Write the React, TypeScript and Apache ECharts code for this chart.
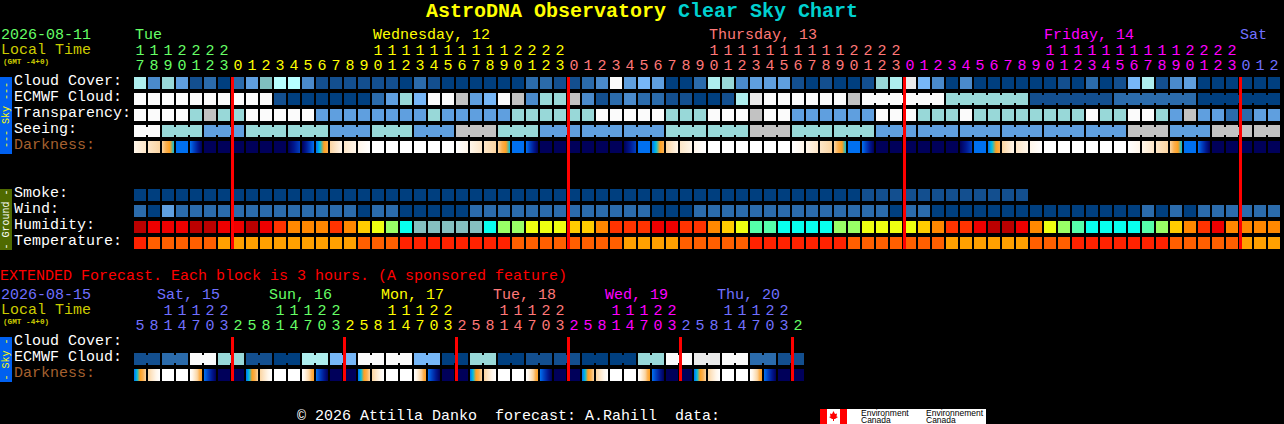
import React, { useEffect, useRef } from "react";
import * as echarts from "echarts";

const FONT = "Liberation Mono";

// --- palettes (level -> colour)
const skyPalette = ["#003f7f","#134f8f","#2b6bab","#4a8acb","#5f9fdf","#77b7f7","#7fbfbf","#98d8d8","#aeeeee","#b7ffff","#c2c2c2","#eaeaea","#fbfbfb"];
const humidityPalette = ["#bb0000","#ee0000","#ff3300","#ff8800","#ffcc00","#eeff11","#99ff66","#55ffaa","#08ffee","#85bfbf"];
const temperaturePalette = ["#ff2200","#ff5f00","#ffa000"];
const darknessPalette = ["#ffffff","#fff6ea","#fde6c8","#fbd5a2","#fbb050","#ffa020","#00c0e0","#0070f0","#0040c0","#001890","#00005a"];

// --- labels
const rowLabels = ["Cloud Cover:","ECMWF Cloud:","Transparency:","Seeing:","Darkness:","","","Smoke:","Wind:","Humidity:","Temperature:"];
const extRowLabels = ["Cloud Cover:","ECMWF Cloud:","Darkness:"];
const hourUnits = "7 8 9 0 1 2 3 0 1 2 3 4 5 6 7 8 9 0 1 2 3 4 5 6 7 8 9 0 1 2 3 0 1 2 3 4 5 6 7 8 9 0 1 2 3 4 5 6 7 8 9 0 1 2 3 0 1 2 3 4 5 6 7 8 9 0 1 2 3 4 5 6 7 8 9 0 1 2 3 0 1 2".split(" ");
const hourTens = "1 1 1 2 2 2 2 - - - - - - - - - - 1 1 1 1 1 1 1 1 1 1 2 2 2 2 - - - - - - - - - - 1 1 1 1 1 1 1 1 1 1 2 2 2 2 - - - - - - - - - - 1 1 1 1 1 1 1 1 1 1 2 2 2 2 - - -".split(" ").map((d) => (d === "-" ? "" : d));
const extHourUnits = "5 8 1 4 7 0 3 2 5 8 1 4 7 0 3 2 5 8 1 4 7 0 3 2 5 8 1 4 7 0 3 2 5 8 1 4 7 0 3 2 5 8 1 4 7 0 3 2".split(" ");
const extHourTens = "- - 1 1 1 2 2 - - - 1 1 1 2 2 - - - 1 1 1 2 2 - - - 1 1 1 2 2 - - - 1 1 1 2 2 - - - 1 1 1 2 2 -".split(" ").map((d) => (d === "-" ? "" : d));

const GREEN = "#66ff66", YELLOW = "#ffff00", SALMON = "#ff7878", MAGENTA = "#ff00ff", BLUE = "#7070ff";
// [first column of the day, colour]
const dayStarts: [number, string][] = [[0, GREEN],[7, YELLOW],[31, SALMON],[55, MAGENTA],[79, BLUE]];
const extDayStarts: [number, string][] = [[0, BLUE],[7, GREEN],[15, YELLOW],[23, SALMON],[31, MAGENTA],[39, BLUE],[47, GREEN]];
const midnights = [7, 31, 55, 79];
const extMidnights = [7, 15, 23, 31, 39, 47];

// --- hourly forecast
const cloudCover = [8,3,7,4,1,2,0,2,4,6,9,9,3,1,1,1,1,1,1,0,2,1,0,0,0,0,0,0,2,2,1,1,2,3,12,4,5,4,0,0,2,8,7,3,4,4,4,1,0,1,0,0,1,7,8,11,5,3,0,3,0,0,0,0,0,0,1,0,2,0,1,5,8,1,3,4,0,0,0,0,0,0];
const ecmwfCloud = [12,12,12,12,12,12,12,12,12,12,1,0,0,0,0,0,0,2,4,7,5,12,12,10,4,5,12,10,3,7,7,10,3,1,2,3,2,2,1,1,0,0,1,8,11,12,12,12,12,12,12,10,12,12,12,12,12,12,7,7,7,7,7,7,1,1,1,1,1,1,2,2,2,2,2,2,0,0,0,0,0,0];
const transparency = [12,12,12,12,7,10,7,7,12,12,12,12,12,4,4,4,4,4,4,4,4,7,4,4,4,4,4,7,7,7,7,7,7,12,12,12,12,12,7,7,7,12,12,12,10,12,12,4,4,4,4,4,4,12,12,12,7,7,7,12,7,7,7,7,7,7,7,7,12,7,7,12,12,7,4,10,4,4,2,2,4,4];
const seeing = [12,12,7,7,7,4,4,4,7,7,7,7,7,7,4,4,4,7,7,7,4,4,4,10,10,10,7,7,7,4,4,4,4,4,4,4,4,4,7,7,7,7,7,7,10,10,10,7,7,7,7,7,7,4,4,4,4,4,4,4,4,4,4,4,4,4,4,4,4,4,4,10,10,10,4,4,4,10,10,10,10,10];
const darknessFrom = [1,2,3,7,7,10,10,10,10,10,10,10,10,7,3,2,1,0,0,0,0,0,0,0,1,2,3,7,7,10,10,10,10,10,10,10,7,7,3,2,1,0,0,0,0,0,0,0,1,2,3,7,7,10,10,10,10,10,10,10,7,7,3,2,1,0,0,0,0,0,0,0,1,2,3,7,7,10,10,10,10,10];
const darknessTo = [2,3,6,7,10,10,10,10,10,10,10,8,7,4,1,1,0,0,0,0,0,0,0,1,2,3,6,7,10,10,10,10,10,10,10,8,7,4,1,1,0,0,0,0,0,0,0,1,2,3,6,7,10,10,10,10,10,10,10,8,7,4,1,1,0,0,0,0,0,0,0,1,2,3,6,7,10,10,10,10,10,10];
const smoke = [0,0,0,0,0,0,0,0,0,0,0,0,0,0,0,0,0,0,0,0,0,0,0,0,0,0,0,0,0,0,0,0,0,0,0,0,0,0,0,0,0,0,0,0,0,0,0,0,0,0,0,0,1,1,1,1,1,1,1,1,1,1,1,1];
const wind = [2,0,4,2,2,2,2,2,2,2,2,2,2,2,2,2,0,2,2,0,0,0,0,0,2,2,2,2,2,2,2,2,2,2,2,2,2,0,0,0,2,2,2,2,2,2,2,2,2,2,2,2,2,2,0,2,2,0,0,0,0,0,0,0,0,0,0,0,0,0,0,0,2,0,2,0,2,2,2,2,2,2];
const humidity = [0,1,1,1,0,0,1,1,0,1,2,3,3,3,2,3,4,5,6,8,9,9,9,9,9,8,6,6,5,5,5,4,4,3,2,2,2,1,1,2,2,3,4,5,7,7,8,8,8,8,6,6,5,5,5,5,4,3,2,2,1,0,0,1,3,5,6,7,8,8,8,8,7,6,4,3,2,1,3,3,3,3];
const temperature = [0,1,1,1,1,1,2,2,2,2,2,2,2,2,2,2,1,1,1,0,0,0,0,0,0,0,0,1,1,1,1,1,1,1,1,2,2,2,2,1,1,1,1,1,0,0,0,0,0,0,0,1,1,1,1,1,1,1,2,2,2,2,2,2,1,1,1,0,0,0,0,0,0,0,1,1,1,1,1,2,2,2];

// --- extended forecast (3 hour blocks)
const extEcmwf = [1,1,2,2,12,12,7,7,1,1,0,0,8,8,5,5,12,12,12,12,5,5,0,0,7,7,0,0,1,1,1,1,0,0,0,0,7,7,12,12,11,11,12,12,2,2,1,1];
const extDarknessFrom = [7,3,0,0,0,7,10,10,7,3,0,0,0,7,10,10,7,3,0,0,0,7,10,10,7,3,0,0,0,7,10,10,7,3,0,0,0,7,10,10,7,3,0,0,0,7,10,10];
const extDarknessTo = [3,0,0,0,5,10,10,10,3,0,0,0,5,10,10,10,3,0,0,0,5,10,10,10,3,0,0,0,5,10,10,10,3,0,0,0,5,10,10,10,3,0,0,0,5,10,10,10];

// --- texts
const dayTexts: [string, number, string][] = [["Tue",135,GREEN],["Wednesday, 12",373,YELLOW],["Thursday, 13",709,SALMON],["Friday, 14",1044,MAGENTA],["Sat",1240,BLUE]];
const extDayTexts: [string, number, string][] = [["Sat, 15",157,BLUE],["Sun, 16",269,GREEN],["Mon, 17",381,YELLOW],["Tue, 18",493,SALMON],["Wed, 19",605,MAGENTA],["Thu, 20",717,BLUE]];

const dayColor = (starts: [number, string][], i: number) => {
  let c = starts[0][1];
  for (const [s, col] of starts) if (i >= s) c = col;
  return c;
};

const gradient = (a: number, b: number) => {
  if (a === b) return darknessPalette[a];
  const step = a < b ? 1 : -1;
  const n = Math.abs(b - a);
  const stops = [];
  for (let k = 0; k <= n; k++) stops.push({ offset: k / n, color: darknessPalette[a + k * step] });
  return new echarts.graphic.LinearGradient(0, 0, 1, 0, stops);
};

// each entry: [column, row, fill index into fills, link to next cell]
const buildCells = (rows: { row: number; fills: any[]; link?: (i: number, n: number) => boolean }[]) => {
  const fills: any[] = [];
  const data: number[][] = [];
  rows.forEach(({ row, fills: f, link }) => {
    f.forEach((fill, i) => {
      fills.push(fill);
      data.push([i, row, fills.length - 1, link && i < f.length - 1 && link(i, f.length) ? 1 : 0]);
    });
  });
  return { fills, data };
};

const cellSeries = (rows: any[], xAxisIndex: number, yAxisIndex: number) => {
  const { fills, data } = buildCells(rows);
  return {
    type: "custom",
    coordinateSystem: "cartesian2d",
    xAxisIndex,
    yAxisIndex,
    silent: true,
    clip: false,
    z: 2,
    data,
    renderItem: (_p: any, api: any) => {
      const [cx, cy] = api.coord([api.value(0), api.value(1)]);
      const fill = fills[api.value(2)];
      const children: any[] = [{ type: "rect", shape: { x: cx - 6, y: cy - 6, width: 12, height: 12 }, style: { fill } }];
      if (api.value(3)) children.push({ type: "rect", shape: { x: cx + 6, y: cy - 4, width: 2, height: 8 }, style: { fill } });
      return { type: "group", children };
    },
  };
};

const lineSeries = (cols: number[], firstRow: number, lastRow: number, xAxisIndex: number, yAxisIndex: number) => ({
  type: "custom",
  coordinateSystem: "cartesian2d",
  xAxisIndex,
  yAxisIndex,
  silent: true,
  clip: false,
  z: 10,
  data: cols.map((c) => [c, firstRow, lastRow]),
  renderItem: (_p: any, api: any) => {
    const [cx, top] = api.coord([api.value(0), api.value(1)]);
    const bottom = api.coord([api.value(0), api.value(2)])[1];
    return { type: "rect", z2: 100, shape: { x: cx - 7, y: top - 6, width: 3, height: bottom - top + 12 }, style: { fill: "#ff0000" } };
  },
});

const xAxisOf = (labels: string[], starts: [number, string][], gridIndex: number, offset: number) => ({
  type: "category",
  gridIndex,
  position: "top",
  offset,
  data: labels,
  axisLine: { show: false },
  axisTick: { show: false },
  splitLine: { show: false },
  axisLabel: {
    interval: 0,
    margin: 1,
    hideOverlap: false,
    fontFamily: FONT,
    fontSize: 15,
    color: (_v: any, i: number) => dayColor(starts, i),
  },
});

const yAxisOf = (labels: string[], gridIndex: number) => ({
  type: "category",
  gridIndex,
  inverse: true,
  data: labels,
  axisLine: { show: false },
  axisTick: { show: false },
  splitLine: { show: false },
  axisLabel: {
    interval: 0,
    margin: 119,
    align: "left",
    verticalAlign: "bottom",
    lineHeight: 4,
    fontFamily: FONT,
    fontSize: 15,
    color: (v: string) => (v === "Darkness:" ? "#a5602f" : "#ffffff"),
  },
});

const txt = (text: string, x: number, y: number, fill: string, fontSize = 15, extra: any = {}) => ({
  type: "text",
  x,
  y,
  silent: true,
  ...extra,
  style: { text, fill, fontFamily: FONT, fontSize, textAlign: "left", textVerticalAlign: "middle", ...(extra.style || {}) },
});

const band = (y: number, h: number, fill: string) => ({ type: "rect", silent: true, shape: { x: 0, y, width: 12, height: h }, style: { fill } });
const vtext = (text: string, cy: number, fill: string) => ({
  type: "text",
  x: 6,
  y: cy,
  rotation: Math.PI / 2,
  silent: true,
  style: { text, fill, fontFamily: FONT, fontSize: 10, textAlign: "center", textVerticalAlign: "middle" },
});

const leaf = [[833.5,411],[835,414],[837,413.5],[836.5,416.5],[838,417],[835,419],[834,419],[834,421],[833,421],[833,419],[832,419],[829,417],[830.5,416.5],[830,413.5],[832,414]];

export default function App() {
  const ref = useRef<HTMLDivElement>(null);
  useEffect(() => {
    document.body.style.margin = "0";
    document.body.style.background = "#000";
    document.body.style.overflow = "hidden";
    const chart = echarts.init(ref.current!, undefined, { renderer: "svg" });
    const sky = (a: number[]) => a.map((v) => skyPalette[v]);
    const ecmwfLink = (i: number) => {
      if (i < 52) return false;
      return ecmwfCloud[i] === ecmwfCloud[i + 1];
    };
    const mainRows = [
      { row: 0, fills: sky(cloudCover) },
      { row: 1, fills: sky(ecmwfCloud), link: ecmwfLink },
      { row: 2, fills: sky(transparency) },
      { row: 3, fills: sky(seeing), link: (i: number) => (i + 1) % 3 !== 2 },
      { row: 4, fills: darknessFrom.map((a, i) => gradient(a, darknessTo[i])) },
      { row: 7, fills: sky(smoke) },
      { row: 8, fills: sky(wind) },
      { row: 9, fills: humidity.map((v) => humidityPalette[v]) },
      { row: 10, fills: temperature.map((v) => temperaturePalette[v]) },
    ];
    const extRows = [
      { row: 1, fills: sky(extEcmwf), link: (i: number) => i % 2 === 0 },
      { row: 2, fills: extDarknessFrom.map((a, i) => gradient(a, extDarknessTo[i])) },
    ];
    chart.setOption({
      animation: false,
      backgroundColor: "#000000",
      title: {
        left: 426,
        top: 1,
        padding: 0,
        text: "{a|AstroDNA Observatory}{b| Clear Sky Chart}",
        textStyle: {
          rich: {
            a: { color: "#ffff00", fontFamily: FONT, fontWeight: "bold", fontSize: 20 },
            b: { color: "#00d0d0", fontFamily: FONT, fontWeight: "bold", fontSize: 20 },
          },
        },
      },
      grid: [
        { left: 133, top: 75, width: 14 * 82, height: 16 * 11, containLabel: false },
        { left: 133, top: 335, width: 14 * 48, height: 16 * 3, containLabel: false },
      ],
      xAxis: [
        xAxisOf(hourUnits, dayStarts, 0, 0),
        xAxisOf(hourTens, dayStarts, 0, 15),
        xAxisOf(extHourUnits, extDayStarts, 1, 0),
        xAxisOf(extHourTens, extDayStarts, 1, 15),
      ],
      yAxis: [yAxisOf(rowLabels, 0), yAxisOf(extRowLabels, 1)],
      series: [
        cellSeries(mainRows, 0, 0),
        cellSeries(extRows, 2, 1),
        lineSeries(midnights, 0, 10, 0, 0),
        lineSeries(extMidnights, 0, 2, 2, 1),
      ],
      graphic: [
        txt("2026-08-11", 1, 35, GREEN),
        txt("Local Time", 1, 50, "#cccc00"),
        txt("(GMT -4+0)", 3, 62, "#cccc00", 7.7, { style: { fontWeight: "bold" } }),
        ...dayTexts.map(([t, x, c]) => txt(t, x, 35, c)),
        txt("EXTENDED Forecast. Each block is 3 hours. (A sponsored feature)", 0, 276, "#ff0000"),
        txt("2026-08-15", 1, 295, BLUE),
        txt("Local Time", 1, 310, "#cccc00"),
        txt("(GMT -4+0)", 3, 322, "#cccc00", 7.7, { style: { fontWeight: "bold" } }),
        ...extDayTexts.map(([t, x, c]) => txt(t, x, 295, c)),
        band(77, 77, "#0060f0"),
        vtext("--- Sky ---", 115, "#ffff00"),
        band(189, 61, "#4f6a00"),
        vtext("- Ground -", 219.5, "#ffffff"),
        band(337, 45, "#0060f0"),
        vtext("- Sky -", 359.5, "#ffff00"),
        txt("© 2026 Attilla Danko  forecast: A.Rahill  data:", 297, 416, "#ffffff"),
        { type: "rect", silent: true, shape: { x: 820, y: 409, width: 166, height: 15 }, style: { fill: "#ffffff" } },
        { type: "rect", silent: true, shape: { x: 820, y: 409, width: 7, height: 15 }, style: { fill: "#ff0000" } },
        { type: "rect", silent: true, shape: { x: 840, y: 409, width: 7, height: 15 }, style: { fill: "#ff0000" } },
        { type: "polygon", silent: true, shape: { points: leaf }, style: { fill: "#ff0000" } },
        { type: "text", silent: true, x: 861, y: 412.5, style: { text: "Environment", fill: "#000", fontFamily: "Liberation Sans", fontSize: 8.5, textVerticalAlign: "middle" } },
        { type: "text", silent: true, x: 861, y: 420, style: { text: "Canada", fill: "#000", fontFamily: "Liberation Sans", fontSize: 8.5, textVerticalAlign: "middle" } },
        { type: "text", silent: true, x: 926, y: 412.5, style: { text: "Environnement", fill: "#000", fontFamily: "Liberation Sans", fontSize: 8.5, textVerticalAlign: "middle" } },
        { type: "text", silent: true, x: 926, y: 420, style: { text: "Canada", fill: "#000", fontFamily: "Liberation Sans", fontSize: 8.5, textVerticalAlign: "middle" } },
      ],
    });
    return () => chart.dispose();
  }, []);
  return <div ref={ref} style={{ position: "absolute", left: 0, top: 0, width: 1284, height: 424 }} />;
}
